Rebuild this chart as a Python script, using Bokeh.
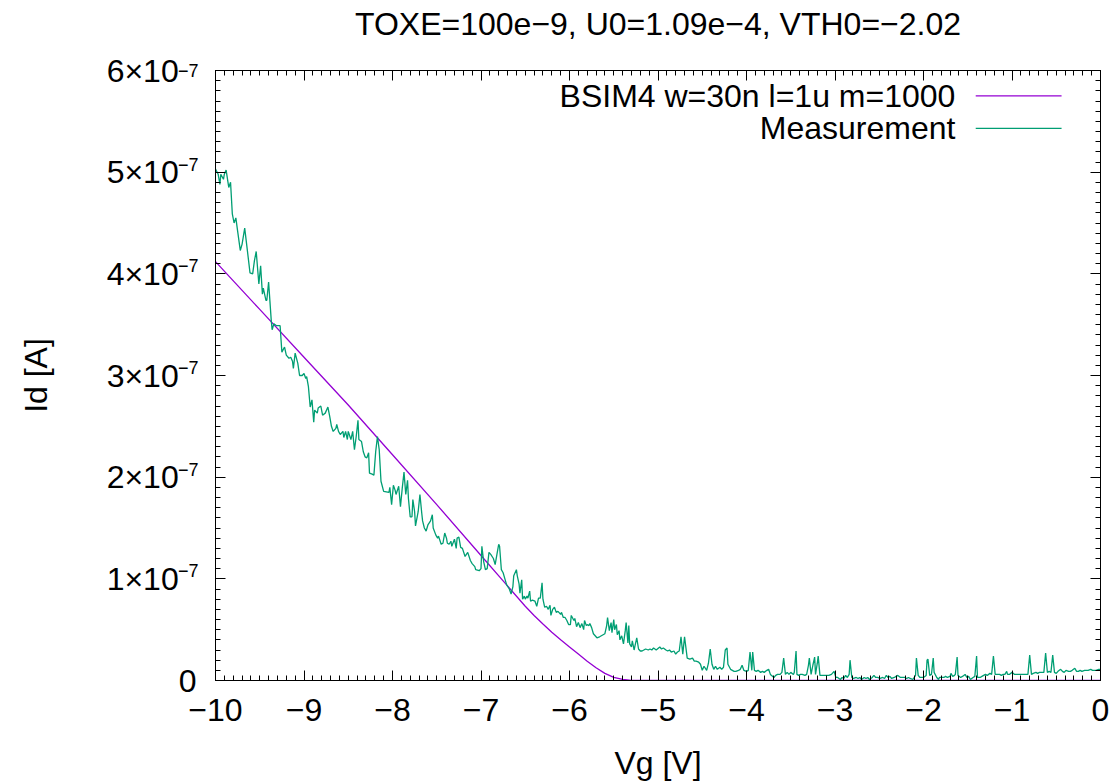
from bokeh.plotting import figure
from bokeh.models import LinearAxis, Range1d, Label, FixedTicker
from bokeh.embed import file_html
from bokeh.resources import INLINE

# ---------------- data ----------------
title_text = "TOXE=100e\u22129, U0=1.09e\u22124, VTH0=\u22122.02"
model_label = "BSIM4 w=30n l=1u m=1000"
meas_label = "Measurement"

# BSIM4 model curve (Vg [V], Id in units of 1e-7 A)
vg_model = [-10.0, -9.5, -9.0, -8.5, -8.0, -7.5, -7.0, -6.75, -6.5, -6.4, -6.3, -6.2, -6.1, -6.0,
            -5.9, -5.8, -5.7, -5.6, -5.5, -5.4, -5.3, -5.2, -5.0, -4.0, -3.0, -2.0, -1.0, 0.0]
id_model_e7 = [4.12, 3.65, 3.18, 2.71, 2.22, 1.73, 1.23, 0.98, 0.73, 0.64, 0.555, 0.475, 0.40, 0.33,
               0.26, 0.19, 0.125, 0.07, 0.03, 0.01, 0.002, 0.0, 0.0, 0.0, 0.0, 0.0, 0.0, 0.0]

# Measurement (Vg [V], Id in units of 1e-7 A)
vg_meas = [
    -10.00, -9.97, -9.95, -9.94, -9.91, -9.90, -9.88, -9.85, -9.83, -9.81, -9.79, -9.77, -9.75, -9.72,
    -9.70, -9.67, -9.64, -9.61, -9.58, -9.56, -9.54, -9.51, -9.49, -9.47, -9.46, -9.43, -9.42, -9.40,
    -9.37, -9.36, -9.34, -9.31, -9.27, -9.25, -9.22, -9.20, -9.17, -9.15, -9.13, -9.12, -9.10, -9.07,
    -9.05, -9.02, -9.00, -8.98, -8.97, -8.95, -8.93, -8.91, -8.89, -8.88, -8.85, -8.84, -8.81, -8.79,
    -8.76, -8.73, -8.71, -8.69, -8.67, -8.64, -8.63, -8.61, -8.59, -8.56, -8.55, -8.53, -8.51, -8.50,
    -8.47, -8.45, -8.43, -8.41, -8.39, -8.38, -8.35, -8.33, -8.31, -8.29, -8.27, -8.26, -8.23, -8.21,
    -8.19, -8.17, -8.15, -8.13, -8.10, -8.04, -8.03, -8.01, -7.99, -7.97, -7.96, -7.93, -7.91, -7.89,
    -7.87, -7.85, -7.83, -7.82, -7.80, -7.78, -7.77, -7.75, -7.74, -7.71, -7.69, -7.67, -7.66, -7.64,
    -7.62, -7.60, -7.57, -7.55, -7.54, -7.51, -7.49, -7.48, -7.45, -7.43, -7.41, -7.39, -7.38, -7.36,
    -7.34, -7.33, -7.30, -7.28, -7.27, -7.25, -7.23, -7.21, -7.18, -7.15, -7.12, -7.10, -7.07, -7.06,
    -7.02, -7.00, -6.99, -6.97, -6.95, -6.93, -6.91, -6.89, -6.86, -6.84, -6.82, -6.80, -6.79, -6.77,
    -6.75, -6.73, -6.71, -6.68, -6.66, -6.64, -6.63, -6.60, -6.59, -6.57, -6.56, -6.54, -6.53, -6.51,
    -6.50, -6.48, -6.47, -6.45, -6.44, -6.42, -6.39, -6.37, -6.35, -6.33, -6.31, -6.30, -6.28, -6.26,
    -6.24, -6.22, -6.21, -6.19, -6.17, -6.15, -6.13, -6.10, -6.09, -6.07, -6.05, -6.03, -6.01, -5.99,
    -5.98, -5.95, -5.94, -5.92, -5.90, -5.88, -5.86, -5.84, -5.83, -5.81, -5.80, -5.78, -5.77, -5.75,
    -5.73, -5.71, -5.69, -5.66, -5.64, -5.62, -5.60, -5.58, -5.57, -5.55, -5.53, -5.52, -5.50, -5.49,
    -5.47, -5.46, -5.44, -5.43, -5.41, -5.39, -5.37, -5.36, -5.34, -5.33, -5.32, -5.30, -5.29, -5.27,
    -5.26, -5.24, -5.22, -5.20, -5.18, -5.16, -5.14, -5.11, -5.09, -5.07, -5.05, -5.02, -4.98, -4.96,
    -4.94, -4.91, -4.89, -4.87, -4.85, -4.82, -4.80, -4.78, -4.76, -4.74, -4.72, -4.70, -4.67, -4.64,
    -4.61, -4.59, -4.57, -4.54, -4.52, -4.50, -4.48, -4.45, -4.43, -4.41, -4.39, -4.37, -4.35, -4.33,
    -4.30, -4.28, -4.26, -4.24, -4.22, -4.21, -4.18, -4.16, -4.14, -4.12, -4.09, -4.07, -4.05, -4.03,
    -4.00, -3.98, -3.96, -3.94, -3.93, -3.91, -3.89, -3.87, -3.84, -3.82, -3.80, -3.77, -3.75, -3.73,
    -3.69, -3.67, -3.65, -3.62, -3.60, -3.58, -3.56, -3.54, -3.52, -3.50, -3.47, -3.46, -3.44, -3.43,
    -3.41, -3.39, -3.37, -3.34, -3.32, -3.30, -3.29, -3.27, -3.25, -3.23, -3.22, -3.20, -3.19, -3.17,
    -3.14, -3.10, -3.07, -3.04, -3.01, -2.99, -2.97, -2.94, -2.92, -2.90, -2.88, -2.86, -2.84, -2.83,
    -2.81, -2.79, -2.76, -2.74, -2.72, -2.70, -2.67, -2.65, -2.63, -2.61, -2.58, -2.56, -2.54, -2.52,
    -2.49, -2.46, -2.44, -2.42, -2.40, -2.38, -2.36, -2.33, -2.31, -2.29, -2.26, -2.24, -2.21, -2.19,
    -2.17, -2.15, -2.12, -2.09, -2.08, -2.06, -2.04, -2.02, -2.00, -1.97, -1.96, -1.95, -1.93, -1.91,
    -1.89, -1.88, -1.85, -1.83, -1.82, -1.79, -1.77, -1.75, -1.73, -1.70, -1.69, -1.67, -1.65, -1.64,
    -1.62, -1.61, -1.58, -1.56, -1.53, -1.51, -1.49, -1.47, -1.44, -1.42, -1.40, -1.39, -1.36, -1.34,
    -1.32, -1.30, -1.28, -1.25, -1.23, -1.21, -1.19, -1.17, -1.14, -1.12, -1.10, -1.08, -1.06, -1.05,
    -1.03, -1.00, -0.97, -0.93, -0.90, -0.86, -0.82, -0.80, -0.78, -0.76, -0.73, -0.71, -0.69, -0.66,
    -0.64, -0.62, -0.60, -0.58, -0.56, -0.54, -0.52, -0.50, -0.48, -0.45, -0.43, -0.41, -0.39, -0.36,
    -0.34, -0.32, -0.29, -0.27, -0.25, -0.23, -0.21, -0.18, -0.16, -0.14, -0.11, -0.09, -0.07, -0.05,
    -0.02, 0.00,
]
id_meas_e7 = [
    5.03, 4.98, 4.88, 4.98, 4.93, 4.98, 5.02, 4.85, 4.90, 4.59, 4.50, 4.55, 4.42, 4.23,
    4.29, 4.45, 4.23, 4.01, 4.00, 4.13, 4.22, 3.90, 4.08, 3.80, 3.86, 3.74, 3.74, 3.92,
    3.54, 3.45, 3.51, 3.49, 3.49, 3.23, 3.28, 3.20, 3.17, 3.18, 3.14, 3.07, 3.22, 3.12,
    3.00, 3.00, 3.02, 2.97, 2.99, 2.89, 2.69, 2.76, 2.54, 2.66, 2.63, 2.68, 2.70, 2.61,
    2.63, 2.69, 2.60, 2.50, 2.45, 2.48, 2.52, 2.45, 2.42, 2.45, 2.39, 2.45, 2.37, 2.45,
    2.37, 2.45, 2.27, 2.40, 2.56, 2.37, 2.35, 2.25, 2.20, 2.19, 2.24, 2.04, 2.03, 2.02,
    2.25, 2.40, 2.27, 1.96, 1.86, 1.85, 1.90, 1.73, 1.92, 1.87, 1.83, 1.91, 1.71, 1.89,
    2.05, 1.83, 1.97, 1.79, 1.61, 1.61, 1.78, 1.66, 1.52, 1.66, 1.83, 1.65, 1.57, 1.50,
    1.47, 1.53, 1.57, 1.63, 1.50, 1.43, 1.40, 1.42, 1.34, 1.35, 1.45, 1.40, 1.35, 1.34,
    1.37, 1.32, 1.39, 1.30, 1.40, 1.41, 1.31, 1.30, 1.22, 1.26, 1.18, 1.15, 1.12, 1.09,
    1.08, 1.10, 1.32, 1.17, 1.09, 1.10, 1.26, 1.24, 1.20, 1.14, 1.24, 1.34, 1.32, 1.09,
    1.06, 1.00, 0.94, 0.90, 0.85, 0.92, 1.03, 1.09, 1.03, 0.95, 0.86, 0.99, 0.80, 0.83,
    0.80, 0.83, 0.81, 0.88, 0.78, 0.79, 0.78, 0.73, 0.81, 0.81, 0.96, 0.80, 0.72, 0.73,
    0.70, 0.74, 0.64, 0.70, 0.72, 0.67, 0.68, 0.65, 0.67, 0.62, 0.62, 0.59, 0.55, 0.55,
    0.64, 0.59, 0.61, 0.53, 0.57, 0.52, 0.56, 0.50, 0.59, 0.54, 0.55, 0.54, 0.56, 0.52,
    0.46, 0.44, 0.42, 0.43, 0.44, 0.45, 0.46, 0.54, 0.62, 0.49, 0.57, 0.47, 0.60, 0.50,
    0.55, 0.45, 0.49, 0.40, 0.44, 0.36, 0.49, 0.57, 0.37, 0.54, 0.36, 0.33, 0.39, 0.30,
    0.34, 0.42, 0.31, 0.29, 0.29, 0.30, 0.31, 0.30, 0.31, 0.30, 0.32, 0.30, 0.33, 0.31,
    0.32, 0.30, 0.29, 0.30, 0.28, 0.29, 0.26, 0.28, 0.29, 0.43, 0.26, 0.43, 0.22, 0.21,
    0.22, 0.19, 0.19, 0.18, 0.16, 0.10, 0.14, 0.10, 0.17, 0.31, 0.16, 0.11, 0.14, 0.11,
    0.13, 0.11, 0.13, 0.30, 0.32, 0.16, 0.11, 0.10, 0.09, 0.09, 0.10, 0.11, 0.15, 0.10,
    0.09, 0.10, 0.28, 0.10, 0.28, 0.10, 0.09, 0.10, 0.08, 0.09, 0.08, 0.10, 0.11, 0.06,
    0.03, 0.05, 0.06, 0.06, 0.08, 0.22, 0.06, 0.08, 0.06, 0.08, 0.06, 0.08, 0.29, 0.06,
    0.05, 0.06, 0.06, 0.05, 0.06, 0.15, 0.22, 0.06, 0.15, 0.23, 0.06, 0.17, 0.24, 0.05,
    0.05, 0.05, 0.05, 0.06, 0.09, 0.03, 0.03, 0.01, 0.03, 0.02, 0.05, 0.03, 0.06, 0.20,
    0.03, 0.02, 0.03, 0.02, 0.03, 0.01, 0.03, 0.02, 0.03, 0.01, 0.03, 0.05, 0.03, 0.03,
    0.02, 0.03, 0.02, 0.05, 0.03, 0.04, 0.02, 0.03, 0.04, 0.05, 0.03, 0.03, 0.03, 0.02,
    0.03, 0.02, 0.01, 0.05, 0.22, 0.05, 0.03, 0.03, 0.03, 0.05, 0.20, 0.21, 0.05, 0.06,
    0.22, 0.08, 0.03, 0.01, 0.03, 0.03, 0.03, 0.04, 0.03, 0.04, 0.07, 0.04, 0.05, 0.06,
    0.23, 0.05, 0.03, 0.04, 0.06, 0.03, 0.04, 0.01, 0.03, 0.04, 0.24, 0.03, 0.03, 0.04,
    0.05, 0.06, 0.05, 0.07, 0.06, 0.24, 0.06, 0.06, 0.06, 0.05, 0.06, 0.06, 0.09, 0.06,
    0.06, 0.08, 0.06, 0.06, 0.06, 0.06, 0.06, 0.25, 0.06, 0.07, 0.08, 0.07, 0.08, 0.08,
    0.08, 0.27, 0.08, 0.09, 0.08, 0.25, 0.08, 0.07, 0.09, 0.11, 0.09, 0.08, 0.10, 0.09,
    0.09, 0.10, 0.12, 0.09, 0.09, 0.10, 0.09, 0.10, 0.10, 0.10, 0.11, 0.10, 0.10, 0.10,
    0.11, 0.11,
]

x_ticks = [-10, -9, -8, -7, -6, -5, -4, -3, -2, -1, 0]
x_tick_labels = ["\u221210", "\u22129", "\u22128", "\u22127", "\u22126", "\u22125",
                 "\u22124", "\u22123", "\u22122", "\u22121", "0"]
y_ticks_e7 = [0, 1, 2, 3, 4, 5, 6]
# mantissa part of the y tick labels (a figure space leaves room for the superscript exponent)
y_tick_labels = ["0", "1\u00d710\u2007", "2\u00d710\u2007", "3\u00d710\u2007",
                 "4\u00d710\u2007", "5\u00d710\u2007", "6\u00d710\u2007"]
y_exponent = "\u22127"

# ---------------- styling ----------------
FONT = "Liberation Sans"
FS = "32px"
SUP_FS = "18px"
SUP_RAISE = 0.08e-7      # superscript raised ~8 px above its tick (kept inside the axis range)
PURPLE = "#9400D3"
GREEN = "#009E73"
Y_MAX = 6e-7

id_model = [v * 1e-7 for v in id_model_e7]
id_meas = [v * 1e-7 for v in id_meas_e7]
y_ticks = [v * 1e-7 for v in y_ticks_e7]
x_minor = [-10 + k * 0.1 for k in range(101)]
y_minor = [k * 1e-8 for k in range(61)]

p = figure(frame_width=885, frame_height=610,
           x_range=Range1d(-10, 0), y_range=Range1d(0, Y_MAX),
           output_backend="svg", toolbar_location=None,
           min_border_left=215, min_border_right=13, min_border_top=70, min_border_bottom=103,
           x_axis_label="Vg [V]", y_axis_label="Id [A]")
p.background_fill_color = "white"
p.border_fill_color = "white"
p.outline_line_color = "black"
p.outline_line_width = 1
p.xgrid.visible = False
p.ygrid.visible = False


def style_axis(ax, ticks, minor, labels, standoff):
    ax.ticker = FixedTicker(ticks=ticks, minor_ticks=minor)
    ax.axis_line_color = "black"
    ax.major_tick_line_color = "black"
    ax.minor_tick_line_color = "black"
    ax.major_tick_in = 10
    ax.major_tick_out = 0
    ax.minor_tick_in = 5
    ax.minor_tick_out = 0
    ax.major_label_text_font = FONT
    ax.major_label_text_color = "black"
    ax.major_label_overrides = dict(zip(ticks, labels))
    ax.major_label_text_font_size = FS
    ax.major_label_standoff = standoff
    ax.axis_label_text_font = FONT
    ax.axis_label_text_font_size = FS
    ax.axis_label_text_font_style = "normal"
    ax.axis_label_text_color = "black"


def mirror_ticks(side, ticks, minor, label=None, label_standoff=0):
    # tick marks only (no tick labels) on the opposite border, like gnuplot's mirrored tics
    short = LinearAxis(ticker=FixedTicker(ticks=[], minor_ticks=minor),
                       axis_line_color="black", major_tick_in=0, major_tick_out=0,
                       minor_tick_in=5, minor_tick_out=0, minor_tick_line_color="black",
                       major_label_standoff=0)
    long = LinearAxis(ticker=FixedTicker(ticks=[], minor_ticks=ticks),
                      axis_line_color=None, major_tick_in=0, major_tick_out=0,
                      minor_tick_in=10, minor_tick_out=0, minor_tick_line_color="black",
                      major_label_standoff=0)
    if label is not None:
        # the plot title is carried by the top border
        long.axis_label = label
        long.axis_label_standoff = label_standoff
        long.axis_label_text_font = FONT
        long.axis_label_text_font_size = FS
        long.axis_label_text_font_style = "normal"
        long.axis_label_text_color = "black"
    p.add_layout(short, side)
    p.add_layout(long, side)


xa = p.xaxis[0]
ya = p.yaxis[0]
style_axis(xa, x_ticks, x_minor, x_tick_labels, 18)
style_axis(ya, y_ticks, y_minor, y_tick_labels, 19)
xa.axis_label_standoff = 21
ya.axis_label_standoff = 50

mirror_ticks("above", x_ticks, x_minor, label=title_text, label_standoff=29)
mirror_ticks("right", y_ticks, y_minor)

# superscript exponents of the y tick labels: a label-only axis placed over the mantissas
exp_ticks = [min(t + SUP_RAISE, Y_MAX) for t in y_ticks[1:]]
exp_axis = LinearAxis(ticker=FixedTicker(ticks=exp_ticks, minor_ticks=[]),
                      axis_line_color=None, major_tick_line_color=None, minor_tick_line_color=None,
                      major_tick_in=0, major_tick_out=0, minor_tick_in=0, minor_tick_out=0,
                      major_label_overrides={t: y_exponent for t in exp_ticks},
                      major_label_text_font=FONT, major_label_text_font_size=SUP_FS,
                      major_label_text_color="black", major_label_standoff=-184)
p.add_layout(exp_axis, "left")

p.line(vg_model, id_model, line_color=PURPLE, line_width=1.3)
p.line(vg_meas, id_meas, line_color=GREEN, line_width=1.3)

# legend (gnuplot style: text right-aligned, sample line to the right)
LEG_TEXT_X = -1.64
LEG_LINE_X0 = -1.41
LEG_LINE_X1 = -0.44
LEG_ROW_Y = [5.75e-7, 5.43e-7]
for lbl, col, yy in [(model_label, PURPLE, LEG_ROW_Y[0]), (meas_label, GREEN, LEG_ROW_Y[1])]:
    p.add_layout(Label(x=LEG_TEXT_X, y=yy, text=lbl, text_align="right", text_baseline="middle",
                       text_font=FONT, text_font_size=FS, text_color="black"))
    p.segment(x0=[LEG_LINE_X0], y0=[yy], x1=[LEG_LINE_X1], y1=[yy], line_color=col, line_width=1.3)

open("out.html", "w").write(file_html(p, INLINE))
